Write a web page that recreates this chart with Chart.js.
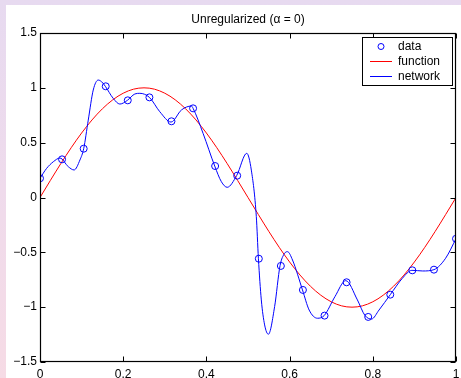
<!DOCTYPE html>
<html>
<head>
<meta charset="utf-8">
<title>Unregularized</title>
<script src="https://cdn.jsdelivr.net/npm/chart.js@4/dist/chart.umd.min.js"></script>
<style>
    html, body { margin: 0; padding: 0; width: 461px; height: 378px; overflow: hidden; }
    body { background: linear-gradient(180deg, #e7daf0 0%, #efdbec 50%, #f6dbe5 100%); position: relative; }
    #paper { position: absolute; left: 6px; top: 5px; right: 0; bottom: 0; background: #fff; }
    #chart { position: absolute; left: 0; top: 0; }
</style>
</head>
<body>
<div id="paper"></div>
<canvas id="chart" width="461" height="378"></canvas>
<script>
// --- values ---
const titleText = 'Unregularized (\u03b1 = 0)';
const legendLabels = ['data', 'function', 'network'];

const dataX = [0, 0.053, 0.105, 0.158, 0.211, 0.263, 0.316, 0.368, 0.421, 0.474,
               0.526, 0.579, 0.632, 0.684, 0.737, 0.789, 0.842, 0.895, 0.947, 1];
const dataY = [0.175, 0.348, 0.445, 1.014, 0.886, 0.913, 0.695, 0.813, 0.287, 0.199,
               -0.558, -0.624, -0.843, -1.077, -0.773, -1.089, -0.886, -0.664, -0.658, -0.376];

const funcX = [0, 0.025, 0.05, 0.075, 0.1, 0.125, 0.15, 0.175, 0.2, 0.225,
               0.25, 0.275, 0.3, 0.325, 0.35, 0.375, 0.4, 0.425, 0.45, 0.475,
               0.5, 0.525, 0.55, 0.575, 0.6, 0.625, 0.65, 0.675, 0.7, 0.725,
               0.75, 0.775, 0.8, 0.825, 0.85, 0.875, 0.9, 0.925, 0.95, 0.975, 1];
const funcY = [0, 0.156, 0.309, 0.454, 0.588, 0.707, 0.809, 0.891, 0.951, 0.988,
               1, 0.988, 0.951, 0.891, 0.809, 0.707, 0.588, 0.454, 0.309, 0.156,
               0, -0.156, -0.309, -0.454, -0.588, -0.707, -0.809, -0.891, -0.951, -0.988,
               -1, -0.988, -0.951, -0.891, -0.809, -0.707, -0.588, -0.454, -0.309, -0.156, 0];

const netX = [0, 0.016, 0.032, 0.048, 0.068, 0.082, 0.096, 0.105, 0.116, 0.128,
              0.14, 0.148, 0.157, 0.176, 0.192, 0.21, 0.228, 0.24, 0.263, 0.288,
              0.315, 0.34, 0.364, 0.368, 0.392, 0.42, 0.436, 0.45, 0.473, 0.497,
              0.508, 0.52, 0.525, 0.532, 0.54, 0.549, 0.564, 0.577, 0.588, 0.595,
              0.607, 0.631, 0.647, 0.667, 0.683, 0.709, 0.735, 0.763, 0.781, 0.797,
              0.815, 0.842, 0.871, 0.894, 0.92, 0.947, 0.975, 1];
const netY = [0.175, 0.266, 0.326, 0.36, 0.281, 0.251, 0.342, 0.445, 0.706, 0.98,
              1.071, 1.056, 1.014, 0.904, 0.852, 0.886, 0.944, 0.95, 0.913, 0.782,
              0.688, 0.798, 0.834, 0.813, 0.585, 0.287, 0.144, 0.093, 0.202, 0.403,
              0.25, -0.175, -0.554, -0.934, -1.162, -1.247, -0.995, -0.622, -0.509, -0.494,
              -0.57, -0.843, -1.026, -1.101, -1.077, -0.904, -0.758, -0.934, -1.075, -1.108,
              -1.026, -0.886, -0.737, -0.664, -0.67, -0.658, -0.554, -0.376];

const xTicks = [0, 0.2, 0.4, 0.6, 0.8, 1];
const yTicks = [-1.5, -1, -0.5, 0, 0.5, 1, 1.5];

const FONT = '"Liberation Sans", Arial, Helvetica, sans-serif';
const BLUE = '#0000ff';
const RED = '#ff0000';

function pairs(xs, ys) { return xs.map((x, i) => ({ x: x, y: ys[i] })); }
function fmt(v) { return String(Math.round(v * 10) / 10).replace('-', '\u2212'); }

// box, inward ticks, title and legend, MATLAB style
const matlabFrame = {
    id: 'matlabFrame',
    afterDatasetsDraw(chart) {
        const { ctx, chartArea: a, scales } = chart;
        const L = Math.round(a.left) + 0.5, R = Math.round(a.right) - 0.5;
        const T = Math.round(a.top) + 0.5, B = Math.round(a.bottom) - 0.5;
        const tl = 5;
        ctx.save();
        ctx.strokeStyle = '#000';
        ctx.lineWidth = 1;
        ctx.beginPath();
        xTicks.forEach(v => {
            const px = Math.round(scales.x.getPixelForValue(v)) + 0.5;
            ctx.moveTo(px, B); ctx.lineTo(px, B - tl);
            ctx.moveTo(px, T); ctx.lineTo(px, T + tl);
        });
        yTicks.forEach(v => {
            const py = Math.round(scales.y.getPixelForValue(v)) + 0.5;
            ctx.moveTo(L, py); ctx.lineTo(L + tl, py);
            ctx.moveTo(R, py); ctx.lineTo(R - tl, py);
        });
        ctx.stroke();
        ctx.lineWidth = 1.2;
        ctx.strokeRect(L, T, R - L, B - T);

        // title
        ctx.fillStyle = '#000';
        ctx.font = '12px ' + FONT;
        ctx.textAlign = 'center';
        ctx.textBaseline = 'middle';
        ctx.fillText(titleText, (a.left + a.right) / 2, 20);

        // legend
        const bx = 362.5, by = 37.5, bw = 90, bh = 48;
        ctx.lineWidth = 1;
        ctx.fillStyle = '#fff';
        ctx.fillRect(bx, by, bw, bh);
        ctx.strokeRect(bx, by, bw, bh);
        ctx.textAlign = 'left';
        const rows = [46.5, 61.5, 76.5];
        legendLabels.forEach((label, i) => {
            const ds = chart.data.datasets.find(d => d.label === label);
            const y = rows[i];
            ctx.strokeStyle = ds.borderColor;
            ctx.beginPath();
            if (ds.showLine === false) {
                ctx.arc(381, y, 3, 0, Math.PI * 2);
            } else {
                ctx.moveTo(370, y); ctx.lineTo(392, y);
            }
            ctx.stroke();
            ctx.fillStyle = '#000';
            ctx.fillText(label, 398, y);
        });
        ctx.restore();
    }
};

new Chart(document.getElementById('chart'), {
    type: 'scatter',
    data: {
        datasets: [
            {
                label: 'data',
                data: pairs(dataX, dataY),
                showLine: false,
                borderColor: BLUE,
                backgroundColor: 'rgba(0,0,0,0)',
                pointRadius: 3.5,
                pointBorderWidth: 1,
                order: 0
            },
            {
                label: 'function',
                data: pairs(funcX, funcY),
                showLine: true,
                borderColor: RED,
                borderWidth: 1,
                pointRadius: 0,
                cubicInterpolationMode: 'monotone',
                order: 2
            },
            {
                label: 'network',
                data: pairs(netX, netY),
                showLine: true,
                borderColor: BLUE,
                borderWidth: 1,
                pointRadius: 0,
                cubicInterpolationMode: 'monotone',
                order: 1
            }
        ]
    },
    options: {
        responsive: false,
        animation: false,
        layout: { padding: { top: 33, right: 4, left: 0, bottom: 0 } },
        plugins: { legend: { display: false }, title: { display: false }, tooltip: { enabled: false } },
        scales: {
            x: {
                type: 'linear', min: 0, max: 1,
                afterFit: s => { s.height = 16; s.paddingLeft = 0; s.paddingRight = 0; },
                afterBuildTicks: s => { s.ticks = xTicks.map(v => ({ value: v })); },
                grid: { display: false, drawTicks: false },
                border: { display: false },
                ticks: { padding: 5, color: '#000', font: { family: FONT, size: 12 }, maxRotation: 0, callback: fmt }
            },
            y: {
                type: 'linear', min: -1.5, max: 1.5,
                afterFit: s => { s.width = 40; s.paddingTop = 0; s.paddingBottom = 0; },
                afterBuildTicks: s => { s.ticks = yTicks.map(v => ({ value: v })); },
                grid: { display: false, drawTicks: false },
                border: { display: false },
                ticks: { padding: 3, color: '#000', font: { family: FONT, size: 12 }, callback: fmt }
            }
        }
    },
    plugins: [matlabFrame]
});
</script>
</body>
</html>
